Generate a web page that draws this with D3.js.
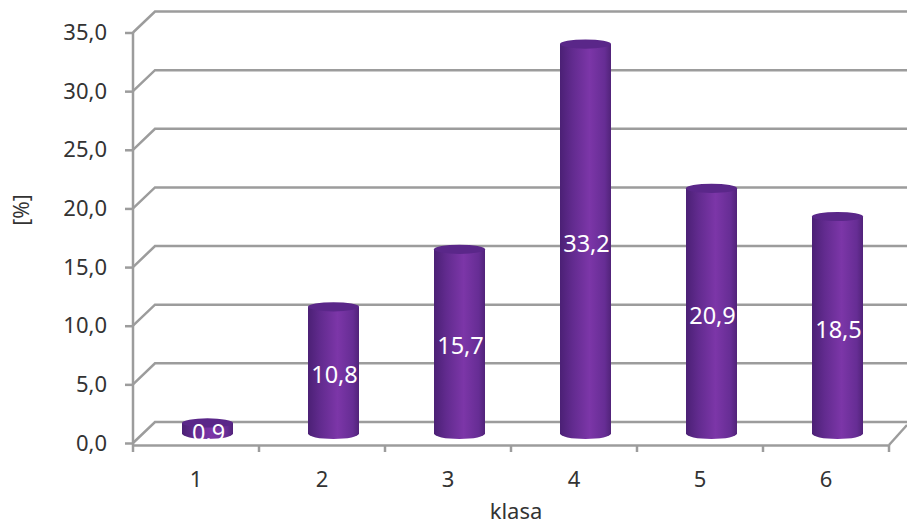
<!DOCTYPE html>
<html>
<head>
<meta charset="utf-8">
<script src="https://cdn.jsdelivr.net/npm/d3@7"></script>
<style>
  html, body { margin: 0; padding: 0; background: #fff; }
  svg { display: block; }
  text { font-family: "Noto Sans", sans-serif; }
</style>
</head>
<body>
<div id="plot-container"></div>
<script>
const classes = ["1", "2", "3", "4", "5", "6"];
const shares = [0.9, 10.8, 15.7, 33.2, 20.9, 18.5];
const yTicks = [0, 5, 10, 15, 20, 25, 30, 35];

const width = 907, height = 526;
const svg = d3.select("#plot-container").append("svg")
  .attr("width", width).attr("height", height);

// Front plane of the 3D box, the back wall is shifted by depth
const depth = { x: 22, y: -21 };
const xScale = d3.scaleBand().domain(classes).range([133, 889]);
const yScale = d3.scaleLinear().domain([0, 35]).range([443, 32.5]);
const comma = d => d.toFixed(1).replace(".", ",");

const gridColor = "#9c9c9c", textColor = "#333333";

// Column shading, dark at both edges with the light band right of centre
const defs = svg.append("defs");
const grad = defs.append("linearGradient").attr("id", "cyl");
[[0, "#4b2075"], [0.25, "#622b8f"], [0.58, "#7c36a8"], [0.88, "#662d94"], [1, "#512379"]]
  .forEach(s => grad.append("stop").attr("offset", s[0]).attr("stop-color", s[1]));

// Back wall gridlines and the diagonal going into the depth
const grid = svg.append("g").attr("fill", "none")
  .attr("stroke", gridColor).attr("stroke-width", 2.5);
yTicks.forEach(t => {
  const y = yScale(t);
  grid.append("path").attr("d", d3.line()([
    [133, y], [133 + depth.x, y + depth.y], [width, y + depth.y]
  ]));
});
// Right edge of the floor
grid.append("path").attr("d", d3.line()([[889, 445], [width, 425]]));

// Axes
const yAxis = svg.append("g").attr("transform", "translate(133,0)")
  .call(d3.axisLeft(yScale).tickValues(yTicks).tickFormat(comma).tickSize(8).tickPadding(18));
const xAxis = svg.append("g").attr("transform", "translate(0,445)")
  .call(d3.axisBottom(xScale).tickSize(0).tickPadding(26));

// Ticks sit between the categories, so they are added on the band edges
xAxis.selectAll(".edge")
  .data(classes.concat("end"))
  .enter().append("line").attr("class", "edge")
  .attr("x1", (d, i) => i < classes.length ? xScale(d) : xScale.range()[1])
  .attr("x2", (d, i) => i < classes.length ? xScale(d) : xScale.range()[1])
  .attr("y1", 0).attr("y2", 7);

[yAxis, xAxis].forEach(ax => {
  ax.selectAll("path.domain").attr("stroke", gridColor).attr("stroke-width", 2.5);
  ax.selectAll("line").attr("stroke", gridColor).attr("stroke-width", 2.5);
  ax.selectAll("text").attr("fill", textColor).attr("font-size", 22)
    .attr("font-family", '"Noto Sans", sans-serif');
});
yAxis.select("path.domain").attr("d", "M0,32.5V445");

// Cylinders
const barW = 51, capRy = 4.6, bottomRy = 5.5;
const baseShift = 9.5;
const bars = svg.append("g").selectAll("g").data(shares).enter().append("g")
  .attr("transform", (d, i) => `translate(${xScale(classes[i]) + xScale.bandwidth() / 2 + depth.x / 2 + 0.5},0)`);

function topY(v) { return yScale(v) - baseShift; }
const baseY = yScale(0) - baseShift;

bars.append("path")
  .attr("fill", "url(#cyl)")
  .attr("d", d => `M${-barW / 2},${topY(d)}V${baseY}` +
    `A${barW / 2},${bottomRy} 0 0 0 ${barW / 2},${baseY}V${topY(d)}Z`);
bars.append("ellipse")
  .attr("cy", d => topY(d)).attr("rx", barW / 2).attr("ry", capRy)
  .attr("fill", "#5a2789");

// Value labels in the middle of each column
bars.append("text")
  .attr("x", 1)
  .attr("text-anchor", "middle")
  .attr("y", d => (topY(d) + baseY) / 2 + 13)
  .attr("fill", "#fff").attr("font-size", 23.5)
  .text(comma);

// Axis titles
svg.append("text").attr("x", 516).attr("y", 519).attr("text-anchor", "middle")
  .attr("fill", textColor).attr("font-size", 22).text("klasa");
svg.append("text").attr("transform", "translate(29,210) rotate(-90)").attr("text-anchor", "middle")
  .attr("fill", textColor).attr("font-size", 21).text("[%]");
</script>
</body>
</html>
